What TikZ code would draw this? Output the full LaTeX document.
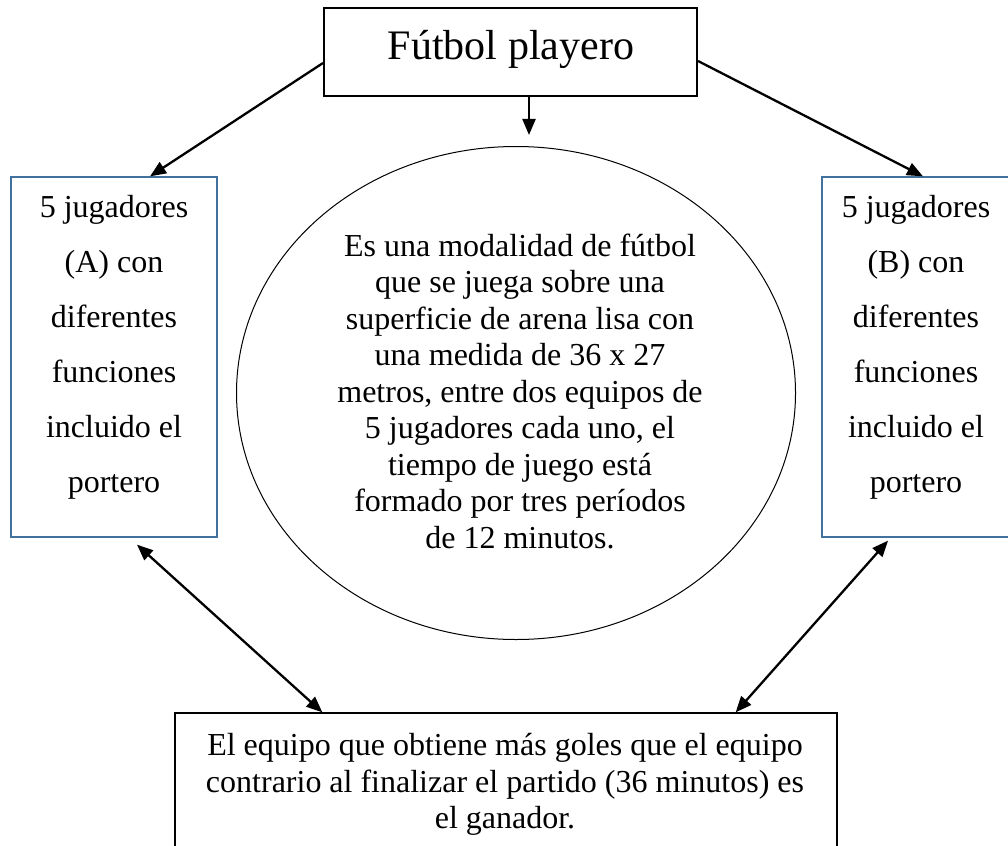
\documentclass[tikz,border=0pt]{standalone}
\usepackage{fontspec}
\setmainfont{Liberation Serif}
\usetikzlibrary{arrows.meta,shapes.geometric,calc}
\definecolor{boxblue}{RGB}{65,113,156}
\begin{document}
\begin{tikzpicture}[x=1pt,y=-1pt,
  sidebox/.style={draw=boxblue, line width=1.3pt, minimum height=360pt, inner sep=0pt},
  sidetext/.style={align=center, inner sep=0pt, font=\fontsize{32}{55}\selectfont},
  bodytext/.style={align=center, inner sep=0pt, font=\fontsize{32}{36.5}\selectfont},
  arr/.style={line width=2.3pt, -{Triangle[length=16pt,width=13pt]}},
  darr/.style={line width=2.3pt, {Triangle[length=16pt,width=13pt]}-{Triangle[length=16pt,width=13pt]}}]
\fill[white] (0,0) rectangle (1008,845);
\clip (0,0) rectangle (1008,845);
% title
\node[draw, line width=2pt, minimum width=373pt, minimum height=88pt, inner sep=0pt] (tbox) at (510.5,52) {};
\node[anchor=base, inner sep=0pt, font=\fontsize{42}{48}\selectfont] (ttext) at (511,60) {Fútbol playero};
% side boxes
\node[sidebox, minimum width=206pt] (lbox) at (114,357) {};
\node[sidetext] (ltext) at (114,347) {5 jugadores\\(A) con\\diferentes\\funciones\\incluido el\\portero};
\node[sidebox, minimum width=188pt] (rbox) at (916,357) {};
\node[sidetext] (rtext) at (916,347) {5 jugadores\\(B) con\\diferentes\\funciones\\incluido el\\portero};
% ellipse
\node[ellipse, draw, line width=1pt, minimum width=559pt, minimum height=493pt, inner sep=0pt] (ell) at (516,393) {};
\node[bodytext] (etext) at (520,391) {Es una modalidad de fútbol\\que se juega sobre una\\superficie de arena lisa con\\una medida de 36 x 27\\metros, entre dos equipos de\\5 jugadores cada uno, el\\tiempo de juego está\\formado por tres períodos\\de 12 minutos.};
% bottom box
\node[draw, line width=1.3pt, minimum width=662pt, minimum height=187pt, inner sep=0pt] (bbox) at (506,806.5) {};
\node[bodytext] (btext) at (505,784.5) {El equipo que obtiene más goles que el equipo\\contrario al finalizar el partido (36 minutos) es\\el ganador.};
% arrows
\draw[arr] ([yshift=-11pt]tbox.west) -- ([xshift=36pt]lbox.north);
\draw[arr] ([xshift=18.5pt]tbox.south) -- ([xshift=13pt,yshift=11pt]ell.north);
\draw[arr] ([yshift=-9pt]tbox.east) -- ([xshift=7pt]rbox.north);
\draw[darr] ([xshift=23pt,yshift=-7pt]lbox.south) -- ([xshift=148pt]bbox.north west);
\draw[darr] ([xshift=-28pt,yshift=-3pt]rbox.south) -- ([xshift=-102pt]bbox.north east);
\end{tikzpicture}
\end{document}
